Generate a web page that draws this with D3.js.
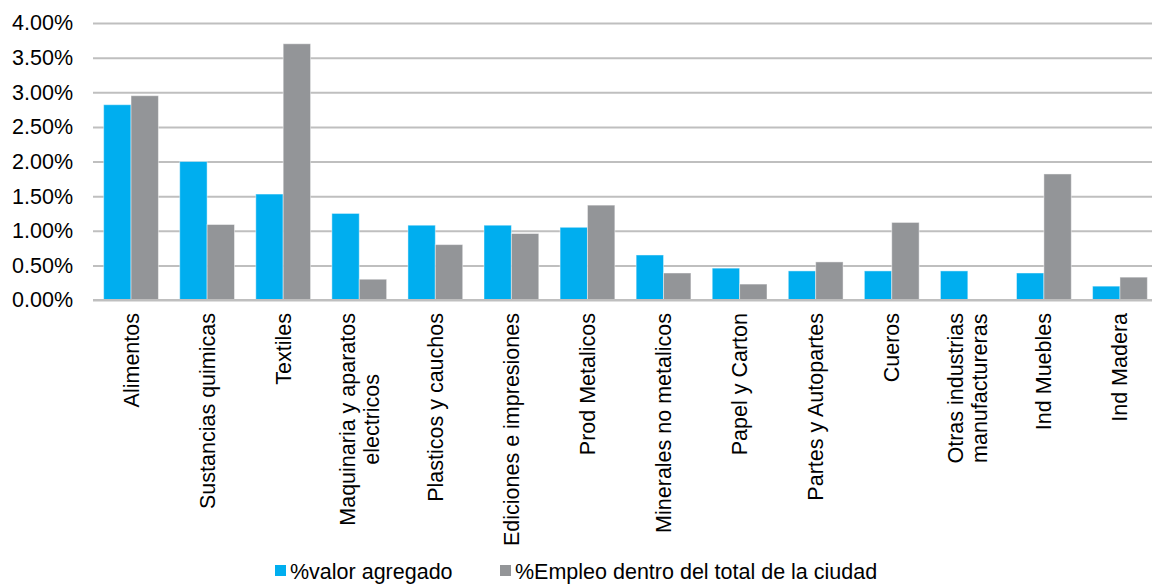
<!DOCTYPE html>
<html>
<head>
<meta charset="utf-8">
<script src="https://cdn.jsdelivr.net/npm/d3@7"></script>
<style>
  body { margin: 0; background: #fff; }
  svg { display: block; font-family: "Liberation Sans", Arial, sans-serif; }
</style>
</head>
<body>
<svg id="chart" width="1152" height="584"></svg>
<script>
// categories (lines of each axis label)
var categories = [
    ["Alimentos"],
    ["Sustancias quimicas"],
    ["Textiles"],
    ["Maquinaria y aparatos", "electricos"],
    ["Plasticos y cauchos"],
    ["Ediciones e impresiones"],
    ["Prod Metalicos"],
    ["Minerales no metalicos"],
    ["Papel y Carton"],
    ["Partes y Autopartes"],
    ["Cueros"],
    ["Otras industrias", "manufactureras"],
    ["Ind Muebles"],
    ["Ind Madera"]
];

var seriesNames = ["%valor agregado", "%Empleo dentro del total de la ciudad"];
var valorAgregado = [2.82, 2.00, 1.53, 1.25, 1.08, 1.08, 1.05, 0.65, 0.46, 0.42, 0.42, 0.42, 0.39, 0.20];
var empleo = [2.95, 1.09, 3.70, 0.30, 0.80, 0.96, 1.37, 0.39, 0.23, 0.55, 1.12, 0, 1.82, 0.33];
var yTicks = [0, 0.5, 1, 1.5, 2, 2.5, 3, 3.5, 4];

var colors = ["#00aeef", "#939598"];
var fontSize = 21.5;

var svg = d3.select("#chart"),
    margin = {top: 23, left: 93},
    plotRight = 1158,
    plotBottom = 300,
    width = plotRight - margin.left,
    height = plotBottom - margin.top;

var data = categories.map(function (c, i) {
    return {id: i, lines: c, values: [valorAgregado[i], empleo[i]]};
});

var x0 = d3.scaleBand()
    .domain(data.map(function (d) { return d.id; }))
    .range([margin.left, plotRight])
    .paddingInner(0.28)
    .paddingOuter(0.14);

var x1 = d3.scaleBand()
    .domain([0, 1])
    .range([0, x0.bandwidth()]);

var y = d3.scaleLinear()
    .domain([0, 4])
    .range([plotBottom, margin.top]);

// grid + y labels
var yAxis = svg.append("g")
    .attr("transform", "translate(" + margin.left + ",0)")
    .call(d3.axisLeft(y)
        .tickValues(yTicks)
        .tickSize(-width)
        .tickPadding(20)
        .tickFormat(function (d) { return d.toFixed(2) + "%"; }));

yAxis.select(".domain").remove();
yAxis.selectAll(".tick line")
    .attr("stroke", "#bfbfbf")
    .attr("stroke-width", 2);
yAxis.selectAll(".tick text")
    .attr("fill", "#000")
    .style("font-size", fontSize + "px")
    .style("font-family", "'Liberation Sans', Arial, sans-serif");

// bars
var groups = svg.append("g")
    .selectAll("g")
    .data(data)
    .enter().append("g")
    .attr("transform", function (d) { return "translate(" + x0(d.id) + ",0)"; });

groups.selectAll("rect")
    .data(function (d) {
        return d.values.map(function (v, k) { return {k: k, v: v}; });
    })
    .enter().filter(function (d) { return d.v > 0; })
    .append("rect")
    .attr("x", function (d) { return x1(d.k); })
    .attr("y", function (d) { return y(d.v); })
    .attr("width", x1.bandwidth())
    .attr("height", function (d) { return y(0) - y(d.v); })
    .attr("fill", function (d) { return colors[d.k]; })
    .attr("stroke", "#ffffff")
    .attr("stroke-opacity", 0.45)
    .attr("stroke-width", 1);

// x axis line
svg.append("line")
    .attr("x1", margin.left)
    .attr("x2", plotRight)
    .attr("y1", y(0))
    .attr("y2", y(0))
    .attr("stroke", "#bfbfbf")
    .attr("stroke-width", 2);

// x labels (rotated, multi-line centred in the block)
var lineHeight = 24;
var labels = svg.append("g")
    .selectAll("g")
    .data(data)
    .enter().append("g")
    .attr("transform", function (d) {
        return "translate(" + (x0(d.id) + x0.bandwidth() / 2) + "," + (plotBottom + 13) + ") rotate(-90)";
    });

labels.each(function (d) {
    var g = d3.select(this);
    var n = d.lines.length;
    var texts = g.selectAll("text")
        .data(d.lines)
        .enter().append("text")
        .attr("y", function (t, i) { return (i - (n - 1) / 2) * lineHeight; })
        .attr("dy", "0.35em")
        .attr("text-anchor", "middle")
        .attr("fill", "#000")
        .style("font-size", fontSize + "px")
        .text(function (t) { return t; });
    var maxW = 0;
    texts.each(function () { maxW = Math.max(maxW, this.getComputedTextLength()); });
    texts.attr("x", -maxW / 2);
});

// legend
var legendX = [275, 500];
var legend = svg.append("g")
    .selectAll("g")
    .data(seriesNames)
    .enter().append("g")
    .attr("transform", function (d, i) { return "translate(" + legendX[i] + ",565)"; });

legend.append("rect")
    .attr("width", 11)
    .attr("height", 11)
    .attr("fill", function (d, i) { return colors[i]; });

legend.append("text")
    .attr("x", 15)
    .attr("y", 14)
    .attr("fill", "#000")
    .style("font-size", fontSize + "px")
    .text(function (d) { return d; });
</script>
</body>
</html>
